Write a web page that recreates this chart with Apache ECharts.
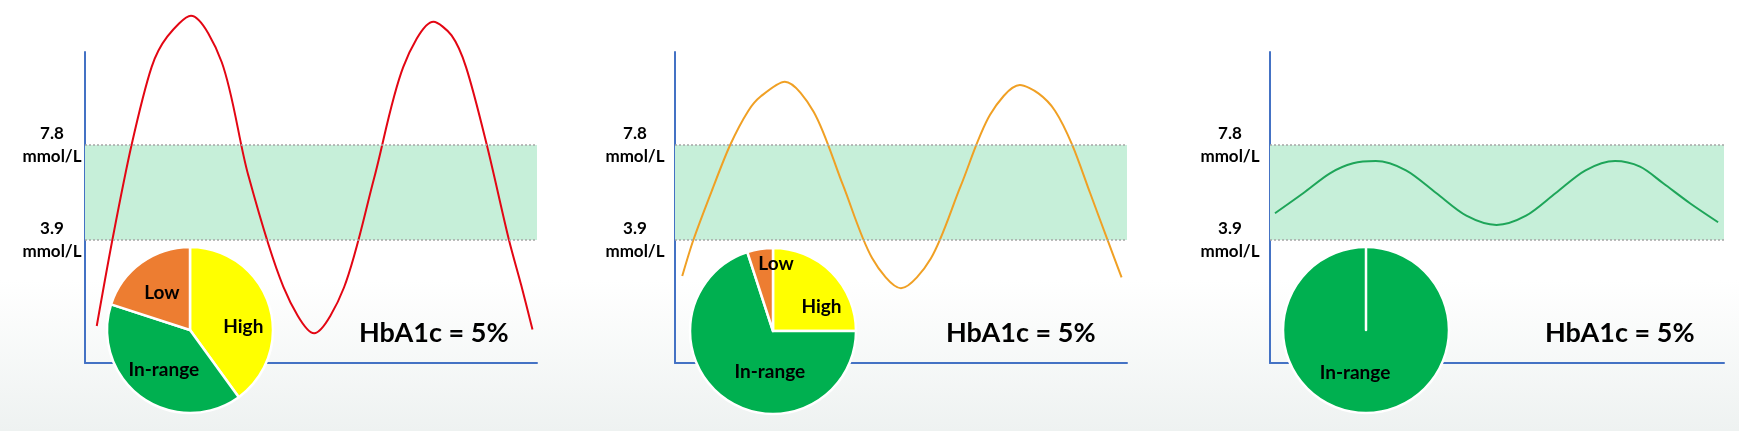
<!DOCTYPE html>
<html>
<head>
<meta charset="utf-8">
<script src="https://cdn.jsdelivr.net/npm/echarts@6/dist/echarts.min.js"></script>
<style>
html,body{margin:0;padding:0;background:#fff;}
#chart{width:1739px;height:431px;}
</style>
</head>
<body>
<div id="chart"></div>
<script>
// ---- data (x: 0..100 along the time axis, y: glucose mmol/L) ----
var lowLimit = 3.9;
var highLimit = 7.8;
var tickLabels = ['3.9\nmmol/L', '7.8\nmmol/L'];
var sliceNames = ['High', 'In-range', 'Low'];
var hba1cLabel = 'HbA1c = 5%';

var curveHighVar = [[2.6,0.37],[6.05,3.9],[10.3,7.8],[14.75,11.01],[18.2,12.25],[23.45,13.11],[30.26,11.2],
  [36.08,6.59],[43.89,1.98],[50.7,0.07],[57.3,1.95],[64.0,6.47],[70.4,11.0],[77.1,12.86],[81.1,12.3],[84.3,11.0],
  [88.9,7.8],[93.8,3.9],[96.5,2.05],[99.0,0.23]];
var curveMidVar  = [[1.6,2.42],[4.06,3.9],[8.1,5.9],[12.2,7.8],[16.2,9.2],[19.0,9.8],[24.3,10.4],[30.7,9.16],
  [37.15,6.16],[43.6,3.16],[50.0,1.92],[56.6,3.14],[63.15,6.09],[69.7,9.04],[76.3,10.26],[80.4,9.92],[84.1,9.2],
  [87.9,7.8],[91.8,5.85],[95.9,3.8],[98.8,2.37]];
var curveLowVar  = [[1.1,5.0],[7.3,5.82],[13.2,6.64],[18.3,7.05],[23.3,7.14],[29.95,6.76],[36.6,5.83],[43.25,4.9],
  [49.9,4.52],[56.4,4.9],[62.95,5.83],[69.5,6.76],[76.0,7.14],[81.5,6.91],[86.6,6.23],[92.5,5.41],[98.7,4.63]];

var pieHighVar = [40, 40, 20];
var pieMidVar  = [25, 70, 5];
var pieLowVar  = [0, 100, 0];

// ---- layout ----
var panels = [
  {curve: curveHighVar, pie: pieHighVar, color: '#e30613', left: 85,  right: 1202, center: [190, 330], labelMargin: 33, textLeft: 359,
   offsets: [[11, 11], [0, 4], [-2, -1]]},
  {curve: curveMidVar,  pie: pieMidVar,  color: '#f0a024', left: 675, right: 612,  center: [773, 331], labelMargin: 40, textLeft: 946,
   offsets: [[17, 7], [23, 5], [10, -23]]},
  {curve: curveLowVar,  pie: pieLowVar,  color: '#1ea559', left: 1270, right: 15,  center: [1366, 330], labelMargin: 40, textLeft: 1545,
   offsets: [[0, 0], [-11, -2], [0, 0]]}
];
var sliceColors = ['#ffff00', '#00b050', '#ed7d31'];
var FONT = 'Lato, "Open Sans", sans-serif';

var grids = [], xAxes = [], yAxes = [], series = [], titles = [];
panels.forEach(function (p, i) {
  grids.push({left: p.left, right: p.right, top: 52, bottom: 68});
  xAxes.push({type: 'value', gridIndex: i, min: 0, max: 100,
    axisLine: {show: true, onZero: false, lineStyle: {color: '#4472c4', width: 2}},
    axisTick: {show: false}, axisLabel: {show: false}, splitLine: {show: false}});
  yAxes.push({type: 'value', gridIndex: i, min: -1.15, max: 11.62,
    axisLine: {show: true, onZero: false, lineStyle: {color: '#4472c4', width: 2}},
    axisTick: {show: false}, splitLine: {show: false},
    axisLabel: {show: true, customValues: [lowLimit, highLimit], align: 'center', margin: p.labelMargin,
      color: '#000', fontFamily: FONT, fontWeight: 'bold', fontSize: 17, lineHeight: 23,
      formatter: function (v) { return Math.abs(v - lowLimit) < 1e-6 ? tickLabels[0] : tickLabels[1]; }}});
  series.push({type: 'line', xAxisIndex: i, yAxisIndex: i, data: p.curve, smooth: 0.3,
    showSymbol: false, clip: false, lineStyle: {color: p.color, width: 2}, z: 3,
    markArea: {silent: true, itemStyle: {color: '#c6efd9'}, data: [[{yAxis: lowLimit}, {yAxis: highLimit}]], z: 1},
    markLine: {silent: true, symbol: 'none', label: {show: false},
      lineStyle: {color: '#a6a6a6', type: [2, 2], width: 1.5},
      data: [{yAxis: lowLimit}, {yAxis: highLimit}]}});
  series.push({type: 'pie', center: p.center, radius: 83, startAngle: 90, clockwise: true,
    z: 5, silent: true, avoidLabelOverlap: false,
    itemStyle: {borderColor: '#ffffff', borderWidth: 2.5},
    label: {position: 'inner', color: '#000', fontFamily: FONT, fontWeight: 'bold', fontSize: 19, formatter: '{b}'},
    labelLine: {show: false},
    data: sliceNames.map(function (n, k) {
      return {name: n, value: p.pie[k], itemStyle: {color: sliceColors[k]},
        label: {show: p.pie[k] > 0, offset: p.offsets[k]}};
    })});
  titles.push({text: hba1cLabel, left: p.textLeft, top: 320, padding: 0,
    textStyle: {fontFamily: FONT, fontWeight: 'bold', fontSize: 27, color: '#000'}});
});

var chart = echarts.init(document.getElementById('chart'), null, {renderer: 'canvas'});
chart.setOption({
  animation: false,
  backgroundColor: {type: 'linear', x: 0, y: 0, x2: 0, y2: 1,
    colorStops: [{offset: 0, color: '#ffffff'}, {offset: 0.65, color: '#ffffff'}, {offset: 1, color: '#eef2f1'}]},
  title: titles,
  grid: grids,
  xAxis: xAxes,
  yAxis: yAxes,
  series: series
});
</script>
</body>
</html>
